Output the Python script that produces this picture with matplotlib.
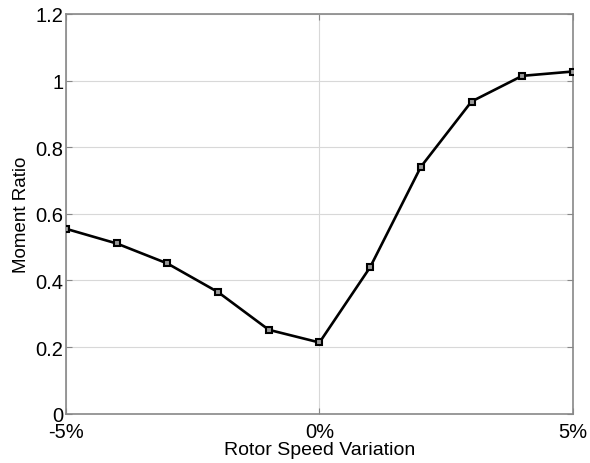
import matplotlib
matplotlib.use('Agg')
import matplotlib.pyplot as plt

# Fonte parecida com Helvetica
matplotlib.rcParams['font.family'] = ['Liberation Sans', 'DejaVu Sans']

# Dados: variação da rotação do rotor (%) e razão de momento
variacao = [-5, -4, -3, -2, -1, 0, 1, 2, 3, 4, 5]
razao_momento = [0.555, 0.511, 0.451, 0.365, 0.252, 0.214, 0.44, 0.741, 0.937, 1.014, 1.027]
ticks_x = [-5, 0, 5]
rotulos_x = ['-5%', '0%', '5%']

fig = plt.figure(figsize=(5.9, 4.64), dpi=100)
ax = fig.add_axes([0.112, 0.106, 0.859, 0.862])

ax.plot(variacao, razao_momento, color='black', linewidth=1.9,
        marker='s', markersize=5, markerfacecolor='#999999',
        markeredgecolor='black', markeredgewidth=1.5, zorder=3)

ax.set_xlim(-5, 5)
ax.set_ylim(0, 1.2)
ax.set_xticks(ticks_x)
ax.set_xticklabels(rotulos_x)
ax.set_yticks([0, 0.2, 0.4, 0.6, 0.8, 1.0, 1.2])
ax.set_yticklabels(['0', '0.2', '0.4', '0.6', '0.8', '1', '1.2'])
for rot in ax.get_yticklabels():
    rot.set_verticalalignment('center_baseline')

# Grade e eixos no estilo MATLAB
ax.grid(True, color='#d8d8d8', linewidth=0.8)
ax.set_axisbelow(True)
for s in ax.spines.values():
    s.set_color('#888888')
    s.set_linewidth(1.2)
ax.tick_params(direction='in', length=4, width=0.8, color='#888888',
               top=True, right=True, labelsize=14.5)
ax.tick_params(axis='x', pad=6)
ax.tick_params(axis='y', pad=2)

ax.set_xlabel('Rotor Speed Variation', fontsize=14, labelpad=0)
ax.set_ylabel('Moment Ratio', fontsize=13.5, labelpad=4)

fig.savefig('out.png', dpi=100)
